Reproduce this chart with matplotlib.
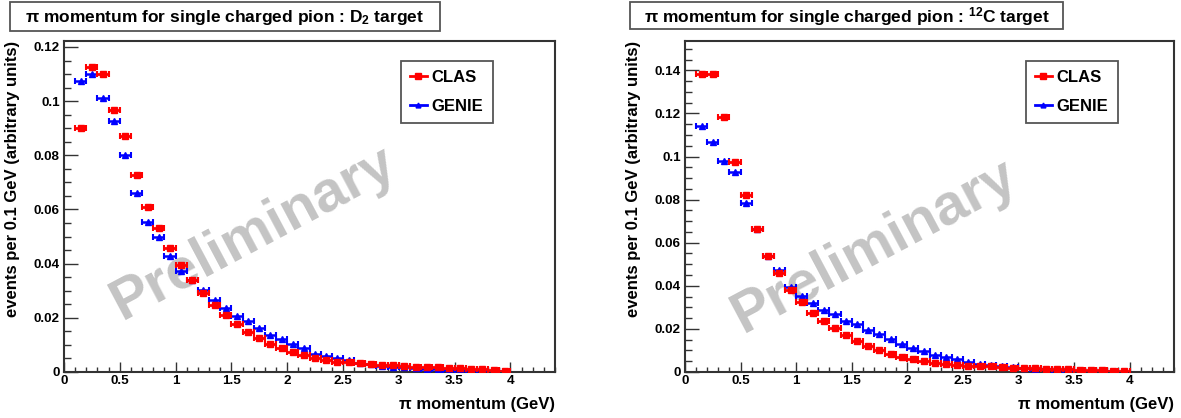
import matplotlib
matplotlib.use('Agg')
import matplotlib.pyplot as plt
from matplotlib.patches import Rectangle
from matplotlib.lines import Line2D
from matplotlib.ticker import MultipleLocator, FormatStrFormatter

plt.rcParams['font.family'] = ['Liberation Sans', 'DejaVu Sans']
plt.rcParams['font.weight'] = 'bold'
plt.rcParams['mathtext.fontset'] = 'custom'
plt.rcParams['mathtext.rm'] = 'Liberation Sans:bold'
plt.rcParams['mathtext.it'] = 'Liberation Sans:bold'
plt.rcParams['mathtext.bf'] = 'Liberation Sans:bold'

# bin centres (GeV), bin width 0.1 GeV
momentum = [0.15, 0.25, 0.35, 0.45, 0.55, 0.65, 0.75, 0.85, 0.95, 1.05,
            1.15, 1.25, 1.35, 1.45, 1.55, 1.65, 1.75, 1.85, 1.95, 2.05,
            2.15, 2.25, 2.35, 2.45, 2.55, 2.65, 2.75, 2.85, 2.95, 3.05,
            3.15, 3.25, 3.35, 3.45, 3.55, 3.65, 3.75, 3.85, 3.95]
half_width = 0.05

d2_clas = [0.0900, 0.1126, 0.1102, 0.0968, 0.0870, 0.0728, 0.0611, 0.0531, 0.0456, 0.0395,
           0.0339, 0.0291, 0.0249, 0.0211, 0.0177, 0.0147, 0.0124, 0.0103, 0.0087, 0.0072,
           0.0061, 0.0050, 0.0044, 0.0038, 0.0036, 0.0032, 0.0031, 0.0026, 0.0026, 0.0022,
           0.0020, 0.0018, 0.0017, 0.0016, 0.0013, 0.0012, 0.0010, 0.0007, 0.0005]
d2_genie = [0.1075, 0.1102, 0.1012, 0.0928, 0.0800, 0.0660, 0.0555, 0.0498, 0.0427, 0.0374,
            0.0339, 0.0304, 0.0265, 0.0238, 0.0205, 0.0187, 0.0164, 0.0136, 0.0121, 0.0103,
            0.0087, 0.0067, 0.0060, 0.0050, 0.0043, 0.0033, 0.0028, 0.0023, 0.0018, 0.0017,
            0.0013, 0.0011, 0.0010, 0.0007, 0.0006, 0.0005, 0.0004, 0.0002, 0.0002]

c12_clas = [0.1384, 0.1384, 0.1185, 0.0974, 0.0821, 0.0665, 0.0539, 0.0460, 0.0381, 0.0326,
            0.0276, 0.0238, 0.0202, 0.0170, 0.0142, 0.0120, 0.0100, 0.0085, 0.0071, 0.0060,
            0.0049, 0.0043, 0.0035, 0.0032, 0.0029, 0.0028, 0.0026, 0.0023, 0.0020, 0.0019,
            0.0017, 0.0015, 0.0014, 0.0012, 0.0011, 0.0009, 0.0008, 0.0006, 0.0003]
c12_genie = [0.1142, 0.1065, 0.0977, 0.0929, 0.0783, 0.0664, 0.0537, 0.0472, 0.0395, 0.0353,
             0.0321, 0.0290, 0.0267, 0.0238, 0.0221, 0.0193, 0.0177, 0.0151, 0.0131, 0.0113,
             0.0097, 0.0079, 0.0069, 0.0059, 0.0046, 0.0035, 0.0031, 0.0026, 0.0022, 0.0017,
             0.0014, 0.0012, 0.0011, 0.0008, 0.0006, 0.0005, 0.0003, 0.0003, 0.0002]

titles = ['\u03c0 momentum for single charged pion : D$_{2}$ target',
          '\u03c0 momentum for single charged pion : $^{12}$C target']
series_labels = ['CLAS', 'GENIE']
xlabel = '\u03c0 momentum (GeV)'
ylabel = 'events per 0.1 GeV (arbitrary units)'
watermark = 'Preliminary'

W, H = 1181, 418
fig = plt.figure(figsize=(W / 100, H / 100), dpi=100)


def fx(px):
    return px / W


def fy(py):
    return 1 - py / H


panels = [
    dict(ax=(64, 555), ymax=0.1222, clas=d2_clas, genie=d2_genie, title=titles[0],
         tbox=(10, 440, 2, 31), leg=(0.686, 0.94), wm=(253, 233), ylab_x=13),
    dict(ax=(685, 1174), ymax=0.1536, clas=c12_clas, genie=c12_genie, title=titles[1],
         tbox=(630, 1063, 2, 29), leg=(0.697, 0.94), wm=(874, 246), ylab_x=634),
]

top_px, bot_px = 41, 372
for p in panels:
    x0, x1 = p['ax']
    ax = fig.add_axes([fx(x0), fy(bot_px), (x1 - x0) / W, (bot_px - top_px) / H])
    ax.set_xlim(0, 4.4)
    ax.set_ylim(0, p['ymax'])

    ax.errorbar(momentum, p['genie'], xerr=half_width, fmt='^', color='#0000ff',
                ms=4, elinewidth=1.8, capsize=2, capthick=1.5, zorder=3)
    ax.errorbar(momentum, p['clas'], xerr=half_width, fmt='s', color='#ff0000',
                ms=5, elinewidth=2, capsize=2, capthick=1.5, zorder=4)

    ax.xaxis.set_major_locator(MultipleLocator(0.5))
    ax.xaxis.set_minor_locator(MultipleLocator(0.1))
    ax.yaxis.set_major_locator(MultipleLocator(0.02))
    ax.yaxis.set_minor_locator(MultipleLocator(0.005))
    ax.xaxis.set_major_formatter(FormatStrFormatter('%g'))
    ax.yaxis.set_major_formatter(FormatStrFormatter('%g'))
    ax.tick_params(axis='both', which='both', direction='in', top=False, right=False,
                   labelsize=9.7, color='#333333', width=1)
    ax.tick_params(axis='y', which='major', length=10, pad=3)
    ax.tick_params(axis='y', which='minor', length=5)
    ax.tick_params(axis='x', which='major', length=7, pad=2)
    ax.tick_params(axis='x', which='minor', length=3.6)
    for lab in ax.get_xticklabels() + ax.get_yticklabels():
        lab.set_fontweight('bold')
    for s in ax.spines.values():
        s.set_color('#333333')
        s.set_linewidth(1.5)

    handles = [Line2D([], [], color='#ff0000', marker='s', ms=4, lw=2),
               Line2D([], [], color='#0000ff', marker='^', ms=3.5, lw=2)]
    leg = ax.legend(handles, series_labels, loc='upper left', bbox_to_anchor=p['leg'],
                    frameon=True, fancybox=False, framealpha=1, edgecolor='#555555',
                    handlelength=1.0, handletextpad=0.3, labelspacing=0.85,
                    borderpad=0.55, borderaxespad=0,
                    prop={'family': 'Liberation Sans', 'weight': 'bold', 'size': 12})
    leg.get_frame().set_linewidth(1.3)
    leg.set_zorder(10)

    ax.text(1.0, -0.075, xlabel, transform=ax.transAxes, ha='right', va='top',
            fontsize=12, fontweight='bold')
    fig.text(fx(p['ylab_x']), fy(top_px), ylabel, rotation=90, ha='center', va='top',
             fontsize=12, fontweight='bold')

    # title box
    bx0, bx1, by0, by1 = p['tbox']
    fig.patches.append(Rectangle((fx(bx0), fy(by1)), (bx1 - bx0) / W, (by1 - by0) / H,
                                 transform=fig.transFigure, facecolor='white',
                                 edgecolor='#555555', lw=1.3))
    fig.text(fx((bx0 + bx1) / 2), fy((by0 + by1) / 2 + 1), p['title'], ha='center',
             va='center', fontsize=12.5, fontweight='bold')

    ax.text(fx(p['wm'][0]), fy(p['wm'][1]), watermark, transform=fig.transFigure,
            rotation=28, ha='center', va='center', fontsize=41.5, fontweight='bold',
            color='#c4c4c4', zorder=1, clip_on=False)

fig.savefig('out.png', dpi=100)
